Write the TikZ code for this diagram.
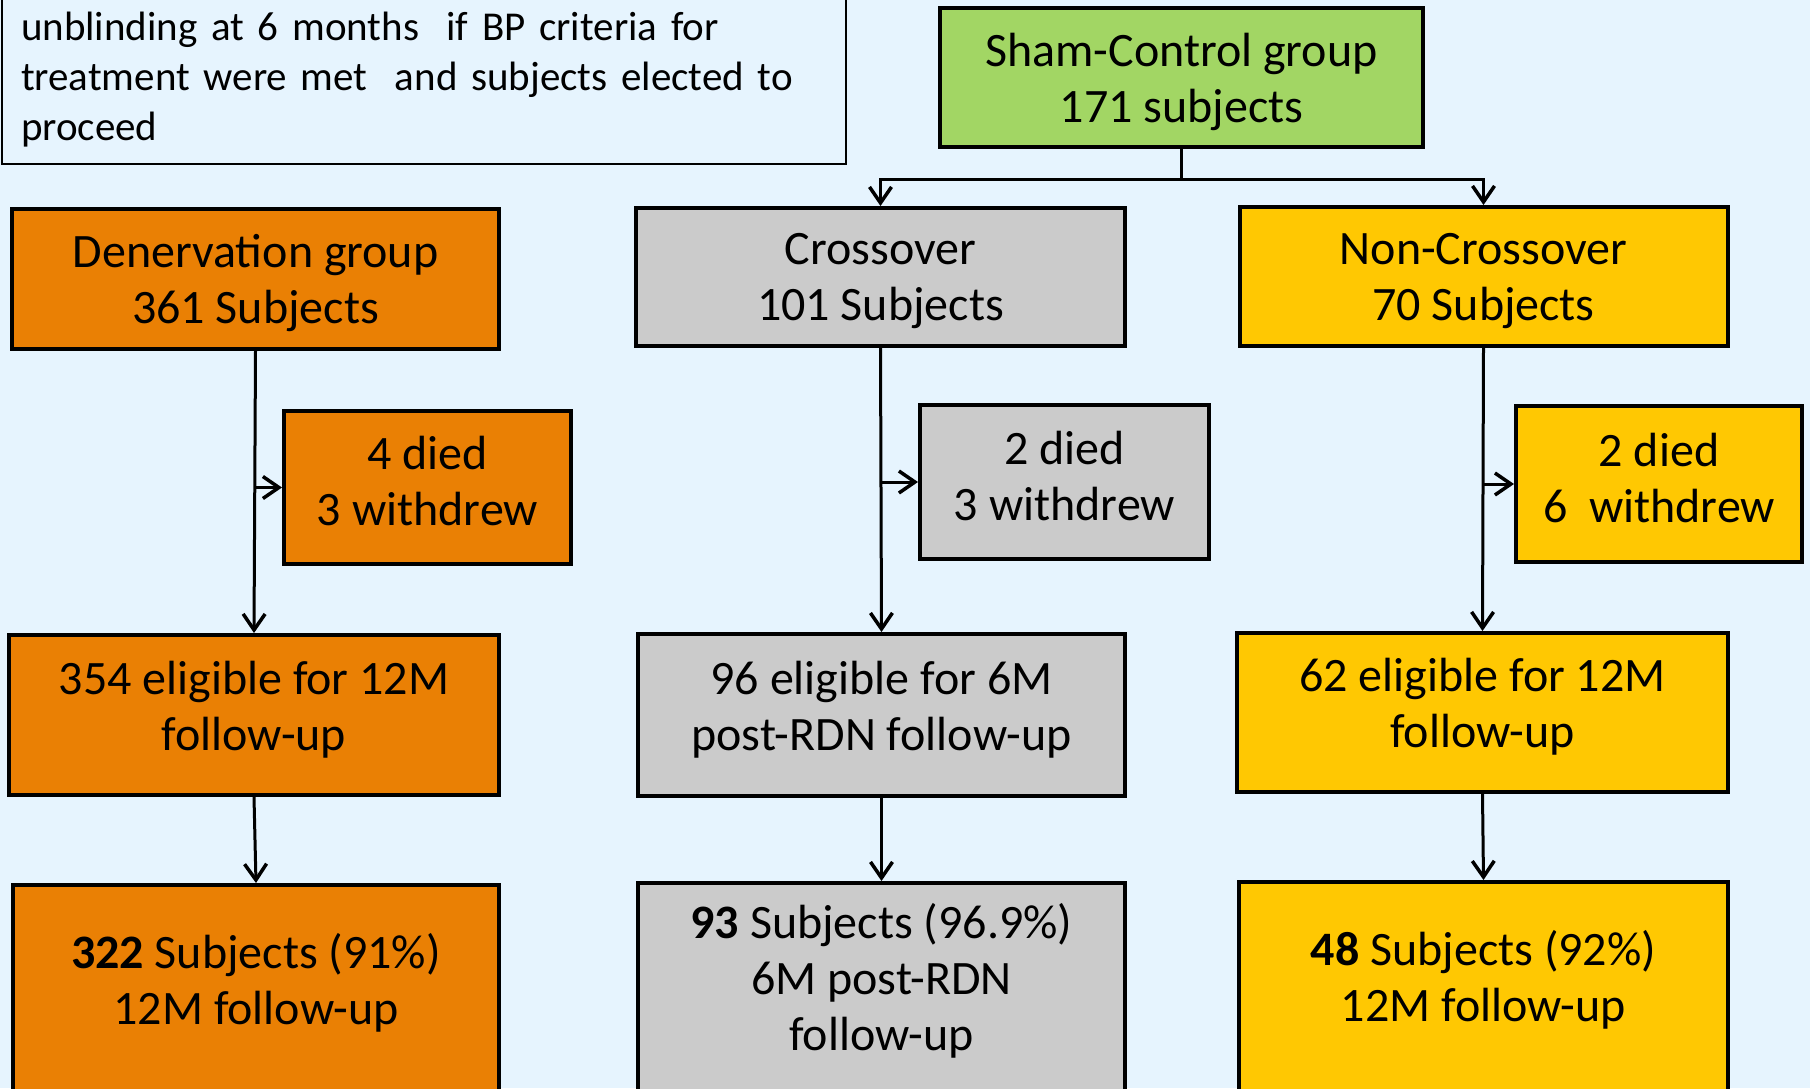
\documentclass[tikz,border=0pt]{standalone}
\usepackage{fontspec}
\setmainfont{Carlito}
\usepackage{tikz}
\usetikzlibrary{arrows.meta,positioning,calc}
\definecolor{PaleSky}{HTML}{E6F4FE}
\definecolor{Orange}{HTML}{EA8004}
\definecolor{Silver}{HTML}{CBCBCB}
\definecolor{Amber}{HTML}{FFC802}
\definecolor{Leaf}{HTML}{A2D664}
\tikzset{
  groupbox/.style={draw=black, line width=4pt, align=center, inner sep=4pt, font=\fontsize{48}{56}\selectfont},
  denbox/.style={groupbox, fill=Orange},
  crossbox/.style={groupbox, fill=Silver},
  nonbox/.style={groupbox, fill=Amber},
  shambox/.style={groupbox, fill=Leaf},
  boxtext/.style={align=center, font=\fontsize{48}{56}\selectfont},
  notebox/.style={draw=black, line width=1.5pt, fill=PaleSky, align=left, inner xsep=19pt, text width=806pt, minimum height=168pt, font=\fontsize{41}{50}\selectfont},
  arrow/.style={-{Straight Barb[length=16pt,width=22pt,line width=3.5pt]}, line width=3pt},
  line/.style={line width=3pt}
}

\begin{document}
\begin{tikzpicture}[x=1pt,y=-1pt]
  \useasboundingbox (0,0) rectangle (1810,1088);
  \clip (0,0) rectangle (1810,1088);
  \fill[PaleSky] (0,0) rectangle (1810,1088);

  \node[notebox] (note) at (424,80) {unblinding at 6 months\ \ if BP criteria for\\treatment were met\ \ and subjects elected to\\proceed};
  \node[shambox, minimum width=483pt, minimum height=139pt, text depth=0pt] (sham) at (1181.5,77.5) {Sham-Control group\\171 subjects};

  % top row
  \node[denbox, minimum width=487pt, minimum height=140pt, text depth=0pt] (den) at (255.5,279) {Denervation group\\361 Subjects};
  \node[crossbox, minimum width=489pt, minimum height=138pt, text depth=0pt] (cross) at (880.5,277) {Crossover\\101 Subjects};
  \node[nonbox, minimum width=488pt, minimum height=139pt, text depth=0pt] (non) at (1483.5,276.5) {Non-Crossover\\70 Subjects};

  % drop-outs
  \node[denbox, minimum width=287pt, minimum height=153pt, text depth=13pt] (denout) at (427.5,487.5) {4 died\\3 withdrew};
  \node[crossbox, minimum width=289pt, minimum height=154pt, text depth=13pt] (crossout) at (1064.5,482) {2 died\\3 withdrew};
  \node[nonbox, minimum width=286pt, minimum height=156pt, text depth=13pt] (nonout) at (1659,484) {2 died\\6\ \ withdrew};

  % eligible
  \node[denbox, minimum width=490pt, minimum height=160pt, text depth=19pt] (denelig) at (254,715) {354 eligible for 12M\\follow-up};
  \node[crossbox, minimum width=487pt, minimum height=162pt, text depth=19pt] (crosselig) at (881.5,715) {96 eligible for 6M\\post-RDN follow-up};
  \node[nonbox, minimum width=491pt, minimum height=159pt, text depth=19pt] (nonelig) at (1482.5,712.5) {62 eligible for 12M\\follow-up};

  % follow-up (boxes run past the lower edge)
  \node[denbox, minimum width=486pt, minimum height=240pt, anchor=north] (denfinal) at (256,883) {};
  \node[crossbox, minimum width=487pt, minimum height=240pt, anchor=north] (crossfinal) at (881.5,881) {};
  \node[nonbox, minimum width=489pt, minimum height=240pt, anchor=north] (nonfinal) at (1483.5,880) {};
  \node[boxtext] (denfinaltext) at (256,983) {\textbf{322} Subjects (91\%)\\12M follow-up};
  \node[boxtext] (crossfinaltext) at (881.5,981) {\textbf{93} Subjects (96.9\%)\\6M post-RDN\\follow-up};
  \node[boxtext] (nonfinaltext) at (1483.5,980) {\textbf{48} Subjects (92\%)\\12M follow-up};

  \draw[line] (sham.south) -- ++(0,30) coordinate (split);
  \draw[arrow] (split) -| (cross.north);
  \draw[arrow] (split) -| (non.north);

  \draw[arrow] (den.south) -- (denelig.north);
  \draw[arrow] (cross.south) -- (crosselig.north);
  \draw[arrow] (non.south) -- (nonelig.north);
  \draw[arrow] (den.south |- denout.west) -- (denout.west);
  \draw[arrow] (cross.south |- crossout.west) -- (crossout.west);
  \draw[arrow] (non.south |- nonout.west) -- (nonout.west);

  \draw[arrow] (denelig.south) -- (denfinal.north);
  \draw[arrow] (crosselig.south) -- (crossfinal.north);
  \draw[arrow] (nonelig.south) -- (nonfinal.north);
\end{tikzpicture}
\end{document}
